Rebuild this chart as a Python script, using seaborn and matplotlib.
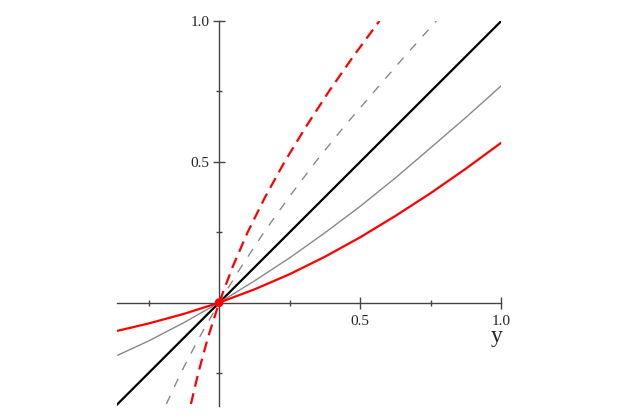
import matplotlib
matplotlib.use("Agg")
import matplotlib.pyplot as plt
import seaborn as sns
import pandas as pd

# data
x_vals = [-0.36, -0.25, -0.125, 0.0, 0.125, 0.25, 0.375, 0.5, 0.625, 0.75, 0.875, 1.0]
red_vals = [-0.100, -0.074, -0.040, 0.0, 0.047, 0.101, 0.163, 0.232, 0.308, 0.389, 0.476, 0.568]
gray_vals = [-0.187, -0.136, -0.071, 0.0, 0.077, 0.159, 0.248, 0.342, 0.443, 0.550, 0.658, 0.770]
diag_vals = [-0.37, 1.0]
origin_x = [0.0]
origin_y = [0.0]
major_ticks = [0.5, 1.0]
minor_ticks = [-0.25, 0.25, 0.75]
tick_labels = ["0.5", "1.0"]
axis_label = "y"

sns.set_style("white")
plt.rcParams["font.family"] = ["Liberation Serif", "DejaVu Serif"]

fig = plt.figure(figsize=(6.29, 4.19), dpi=100)
ax = fig.add_axes([0.186, 0.031, 0.611, 0.919])

curves = pd.DataFrame({"x": x_vals, "red": red_vals, "gray": gray_vals})

sns.lineplot(x=diag_vals, y=diag_vals, ax=ax, color="black", linewidth=1.6, estimator=None)
sns.lineplot(data=curves, x="x", y="gray", ax=ax, color="#888888", linewidth=1.0, estimator=None)
sns.lineplot(data=curves, x="x", y="red", ax=ax, color="#ff0000", linewidth=1.6, estimator=None)
# reflected (inverse) curves, dashed
sns.lineplot(data=curves, x="gray", y="x", ax=ax, color="#888888", linewidth=1.0,
             estimator=None, sort=False, linestyle=(0, (6.5, 7)))
sns.lineplot(data=curves, x="red", y="x", ax=ax, color="#ff0000", linewidth=1.6,
             estimator=None, sort=False, linestyle=(0, (5, 3)))
sns.scatterplot(x=origin_x, y=origin_y, ax=ax, color="#ff0000", s=40, edgecolor="none", zorder=5)

ax.set_xlim(-0.362, 1.0)
ax.set_ylim(-0.367, 1.0)

for side in ["top", "right"]:
    ax.spines[side].set_visible(False)
for side in ["left", "bottom"]:
    ax.spines[side].set_position(("data", 0))
    ax.spines[side].set_color("#444444")
    ax.spines[side].set_linewidth(1.0)

ax.set_xticks(major_ticks)
ax.set_xticklabels(tick_labels)
ax.set_yticks(major_ticks)
ax.set_yticklabels(tick_labels)
ax.set_xticks(minor_ticks, minor=True)
ax.set_yticks(minor_ticks, minor=True)
ax.tick_params(which="major", direction="inout", length=8, width=1.0, color="#444444",
               labelsize=11, pad=3, bottom=True, left=True)
ax.tick_params(axis="x", which="major", pad=5)
ax.tick_params(which="minor", direction="inout", length=4.5, width=1.0, color="#444444",
               bottom=True, left=True)
ax.set_xlabel("")
ax.set_ylabel("")
ax.grid(False)

ax.text(0.988, 0.18, axis_label, transform=ax.transAxes, ha="center", va="center", fontsize=17)

fig.savefig("out.png", dpi=100)
